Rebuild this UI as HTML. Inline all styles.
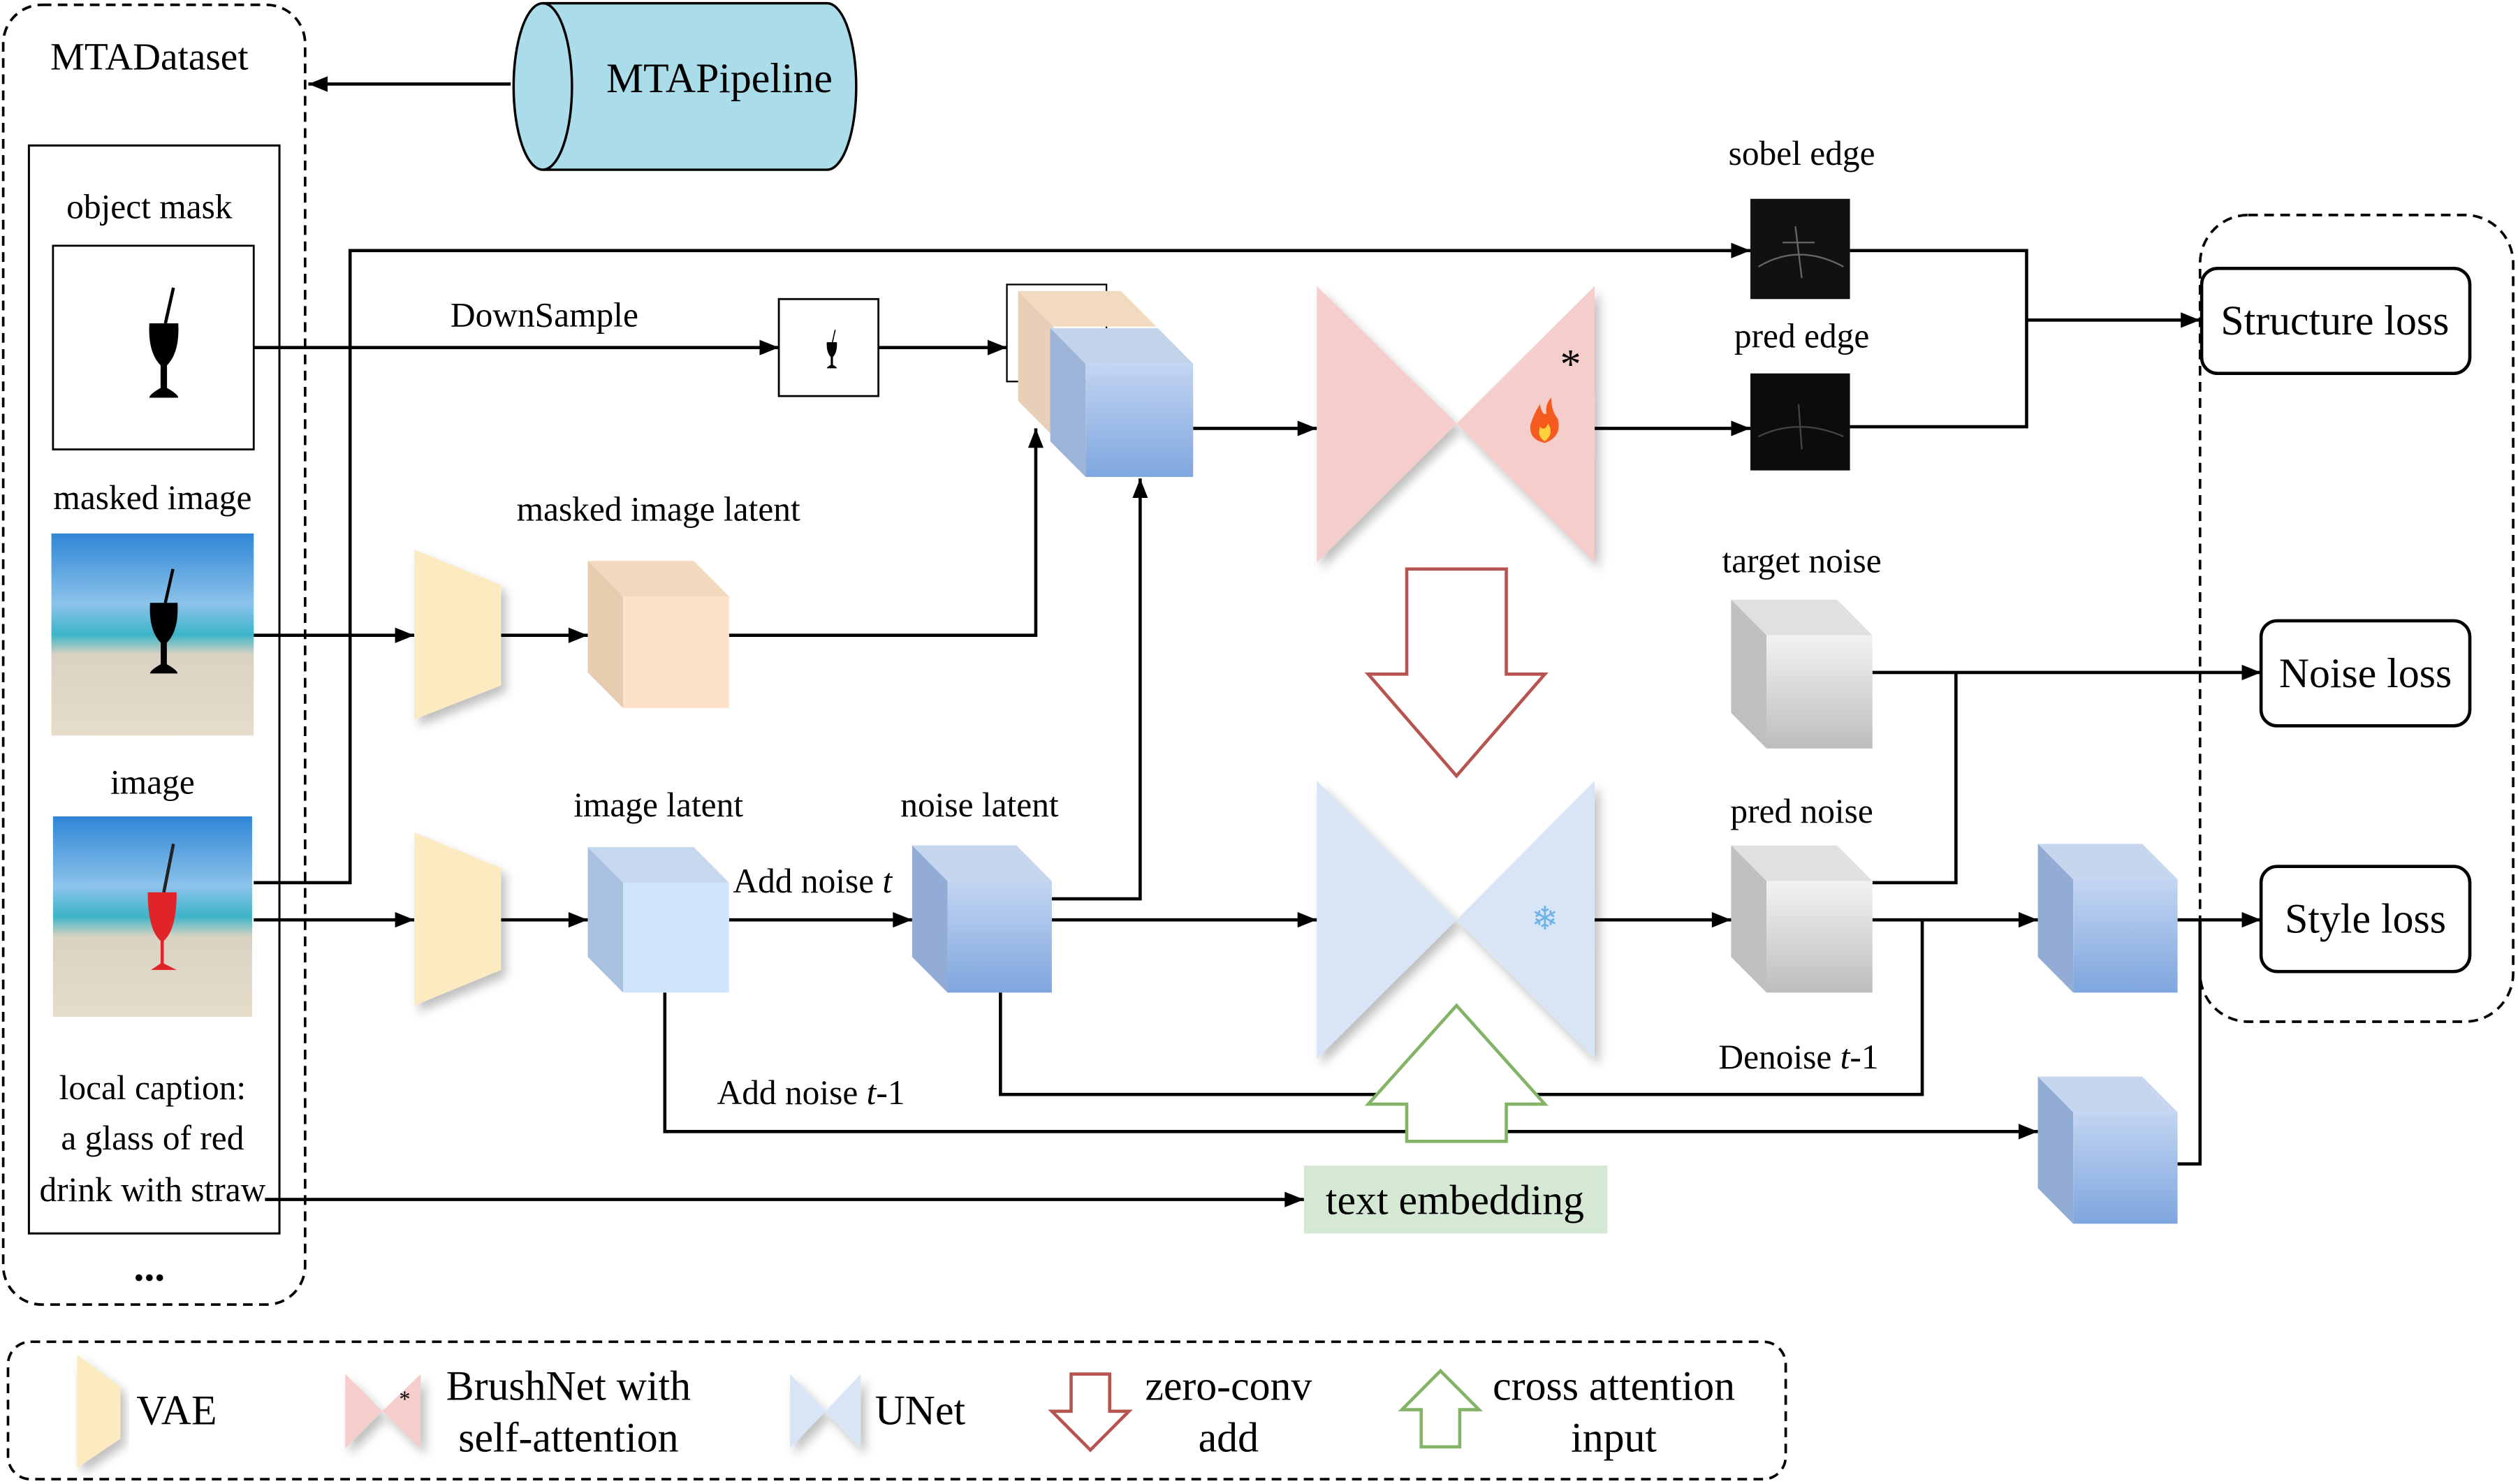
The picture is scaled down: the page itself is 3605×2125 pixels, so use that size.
<!DOCTYPE html>
<html><head><meta charset="utf-8"><style>
html,body{margin:0;padding:0;background:#fff;}
svg{display:block;}
text{font-family:"Liberation Serif",serif;fill:#000;}
</style></head><body>
<svg width="3605" height="2125" viewBox="0 0 1568 918" preserveAspectRatio="none" xmlns="http://www.w3.org/2000/svg">
<defs>
<marker id="a" viewBox="0 0 10 10" refX="10" refY="5" markerWidth="18" markerHeight="12" orient="auto" markerUnits="userSpaceOnUse"><path d="M0,1 L10,5 L0,9 z" fill="#000"/></marker>
<linearGradient id="blue" x1="0" y1="0" x2="0" y2="1"><stop offset="0" stop-color="#c3d5f2"/><stop offset="1" stop-color="#7ea6de"/></linearGradient>
<linearGradient id="gray" x1="0" y1="0" x2="0" y2="1"><stop offset="0" stop-color="#f2f2f2"/><stop offset="1" stop-color="#bdbdbd"/></linearGradient>
<linearGradient id="sky" x1="0" y1="0" x2="0" y2="1"><stop offset="0" stop-color="#2f86d6"/><stop offset="0.35" stop-color="#8cc3ea"/><stop offset="0.5" stop-color="#3cb4c8"/><stop offset="0.6" stop-color="#d9d2c2"/><stop offset="1" stop-color="#e6dccb"/></linearGradient>
<filter id="sh" x="-10%" y="-10%" width="130%" height="130%"><feDropShadow dx="3" dy="4" stdDeviation="3" flood-color="#000" flood-opacity="0.25"/></filter>
<g id="glass"><path d="M-9,-18 L9,-18 Q10,0 2,8 L2,22 Q9,26 9,28 L-9,28 Q-9,26 -2,22 L-2,8 Q-10,0 -9,-18 z" fill="#000"/><line x1="1" y1="-18" x2="6" y2="-40" stroke="#000" stroke-width="2"/></g>
</defs>

<rect x="2" y="3" width="188" height="804" rx="24" fill="none" stroke="#000" stroke-width="1.6" stroke-dasharray="6,4"/>
<text x="93" y="43" font-size="24" text-anchor="middle">MTADataset</text>
<rect x="18" y="90" width="156" height="673" fill="none" stroke="#000" stroke-width="1.3"/>
<text x="93" y="135" font-size="21.5" text-anchor="middle">object mask</text>
<rect x="33" y="152" width="125" height="126" fill="#fff" stroke="#000" stroke-width="1.2"/>
<use href="#glass" transform="translate(102,218)"/>
<text x="95" y="315" font-size="21.5" text-anchor="middle">masked image</text>
<rect x="32" y="330" width="126" height="125" fill="url(#sky)"/>
<use href="#glass" transform="translate(102,390) scale(0.95)"/>
<text x="95" y="491" font-size="21.5" text-anchor="middle">image</text>
<rect x="33" y="505" width="124" height="124" fill="url(#sky)"/>
<path d="M92,552 L110,552 Q110,575 102,582 L102,596 L110,600 L94,600 L100,596 L100,582 Q92,575 92,552z" fill="#e0242a"/>
<line x1="102" y1="552" x2="108" y2="522" stroke="#222" stroke-width="2"/>
<text x="95" y="680" font-size="21.5" text-anchor="middle">local caption:</text>
<text x="95" y="711" font-size="21.5" text-anchor="middle">a glass of red</text>
<text x="95" y="743" font-size="21.5" text-anchor="middle">drink with straw</text>
<text x="93" y="792" font-size="26" text-anchor="middle" font-weight="bold">...</text>

<path d="M338,2 L515,2 A18,51 0 0 1 515,105 L338,105 A18,51 0 0 1 338,2 z" fill="#abdcea" stroke="#000" stroke-width="1.5"/>
<path d="M338,2 A18,51 0 0 1 338,105" fill="none" stroke="#000" stroke-width="1.5"/>
<text x="448" y="57" font-size="26" text-anchor="middle">MTAPipeline</text>
<line x1="318" y1="52" x2="192" y2="52" stroke="#000" stroke-width="2" marker-end="url(#a)"/>

<g stroke="#000" stroke-width="2" fill="none">
<line x1="158" y1="215" x2="485" y2="215" marker-end="url(#a)"/>
<line x1="547" y1="215" x2="627" y2="215" marker-end="url(#a)"/>
<polyline points="158,546 218,546 218,155 1090,155" marker-end="url(#a)"/>
<line x1="158" y1="393" x2="258" y2="393" marker-end="url(#a)"/>
<line x1="312" y1="393" x2="366" y2="393" marker-end="url(#a)"/>
<polyline points="454,393 645,393 645,265" marker-end="url(#a)"/>
<line x1="158" y1="569" x2="258" y2="569" marker-end="url(#a)"/>
<line x1="312" y1="569" x2="366" y2="569" marker-end="url(#a)"/>
<line x1="454" y1="569" x2="568" y2="569" marker-end="url(#a)"/>
<polyline points="655,556 710,556 710,296" marker-end="url(#a)"/>
<line x1="743" y1="265" x2="820" y2="265" marker-end="url(#a)"/>
<line x1="993" y1="265" x2="1090" y2="265" marker-end="url(#a)"/>
<polyline points="1152,155 1262,155 1262,264 1152,264"/>
<line x1="1262" y1="198" x2="1370" y2="198" marker-end="url(#a)"/>
<line x1="655" y1="569" x2="820" y2="569" marker-end="url(#a)"/>
<line x1="993" y1="569" x2="1078" y2="569" marker-end="url(#a)"/>
<line x1="1166" y1="416" x2="1408" y2="416" marker-end="url(#a)"/>
<polyline points="1166,546 1218,546 1218,416"/>
<line x1="1166" y1="569" x2="1269" y2="569" marker-end="url(#a)"/>
<line x1="1356" y1="569" x2="1408" y2="569" marker-end="url(#a)"/>
<polyline points="1197,569 1197,677 623,677 623,614"/>
<polyline points="414,614 414,700 1269,700" marker-end="url(#a)"/>
<polyline points="1356,720 1370,720 1370,569"/>
<line x1="165" y1="742" x2="812" y2="742" marker-end="url(#a)"/>
</g>
<text x="339" y="202" font-size="21.5" text-anchor="middle">DownSample</text>
<rect x="485" y="185" width="62" height="60" fill="#fff" stroke="#000" stroke-width="1.2"/>
<use href="#glass" transform="translate(518,218) scale(0.35)"/>

<polygon points="258,340 312,362 312,424 258,445" fill="#fcebc0" filter="url(#sh)"/>
<polygon points="258,515 312,537 312,600 258,622" fill="#fcebc0" filter="url(#sh)"/>

<polygon points="366,347 432,347 454,369 388,369" fill="#f2d9bd"/>
<polygon points="366,347 388,369 388,438 366,416" fill="#e8ccb0"/>
<rect x="388" y="369" width="66" height="69" fill="#fde2c8"/>
<polygon points="366,524 432,524 454,546 388,546" fill="#c6d8ee"/>
<polygon points="366,524 388,546 388,614 366,592" fill="#a9c0e0"/>
<rect x="388" y="546" width="66" height="68" fill="#cfe5fb"/>
<polygon points="568,523 633,523 655,545 590,545" fill="#c6d6ee"/>
<polygon points="568,523 590,545 590,614 568,592" fill="#93acd6"/>
<rect x="590" y="545" width="65" height="69" fill="url(#blue)"/>
<rect x="627" y="176" width="62" height="60" fill="#fff" stroke="#000" stroke-width="1"/>
<polygon points="634,180 698,180 720,202 656,202" fill="#f2dac0"/>
<polygon points="634,180 656,202 656,270 634,248" fill="#e8cfb8"/>
<polygon points="654,203 721,203 743,225 676,225" fill="#c3d3ea"/>
<polygon points="654,203 676,225 676,295 654,273" fill="#9db4d8"/>
<rect x="676" y="225" width="67" height="70" fill="url(#blue)"/>
<polygon points="1078,371 1144,371 1166,393 1100,393" fill="#e0e0e0"/>
<polygon points="1078,371 1100,393 1100,463 1078,441" fill="#bfbfbf"/>
<rect x="1100" y="393" width="66" height="70" fill="url(#gray)"/>
<polygon points="1078,523 1144,523 1166,545 1100,545" fill="#e0e0e0"/>
<polygon points="1078,523 1100,545 1100,614 1078,592" fill="#bfbfbf"/>
<rect x="1100" y="545" width="66" height="69" fill="url(#gray)"/>
<polygon points="1269,522 1334,522 1356,544 1291,544" fill="#c6d6ee"/>
<polygon points="1269,522 1291,544 1291,614 1269,592" fill="#93acd6"/>
<rect x="1291" y="544" width="65" height="70" fill="url(#blue)"/>
<polygon points="1269,666 1334,666 1356,688 1291,688" fill="#c6d6ee"/>
<polygon points="1269,666 1291,688 1291,757 1269,735" fill="#93acd6"/>
<rect x="1291" y="688" width="65" height="69" fill="url(#blue)"/>

<text x="410" y="322" font-size="21.5" text-anchor="middle">masked image latent</text>
<text x="410" y="505" font-size="21.5" text-anchor="middle">image latent</text>
<text x="610" y="505" font-size="21.5" text-anchor="middle">noise latent</text>
<text x="506" y="552" font-size="21.5" text-anchor="middle">Add noise <tspan font-style="italic">t</tspan></text>
<text x="505" y="683" font-size="21.5" text-anchor="middle">Add noise <tspan font-style="italic">t</tspan>-1</text>
<text x="1120" y="661" font-size="21.5" text-anchor="middle">Denoise <tspan font-style="italic">t</tspan>-1</text>

<g filter="url(#sh)">
<polygon points="820,177 907,262 820,348" fill="#f5cdcb"/>
<polygon points="993,177 907,262 993,348" fill="#f5cdcb"/>
</g>
<text x="978" y="234" font-size="26" text-anchor="middle" font-family="DejaVu Sans">*</text>
<path d="M962,274 Q952,272 953,263 Q955,256 959,250 Q960,257 963,256 Q962,250 966,246 Q966,254 970,259 Q973,270 962,274z" fill="#f55a1e"/>
<path d="M962,273 Q957,270 959,264 Q962,267 964,262 Q968,268 962,273z" fill="#ffd23c"/>

<g filter="url(#sh)">
<polygon points="820,483 907,569 820,655" fill="#d8e5f7"/>
<polygon points="993,483 907,569 993,655" fill="#d8e5f7"/>
</g>
<text x="962" y="575" font-size="20" text-anchor="middle" style="fill:#6fb3e6" font-family="DejaVu Sans">❄</text>

<polygon points="876,352 938,352 938,417 962,417 907,480 852,417 876,417" fill="#fff" stroke="#b85450" stroke-width="2"/>
<polygon points="907,622 962,683 938,683 938,706 876,706 876,683 852,683" fill="#fff" stroke="#82b366" stroke-width="2"/>

<text x="1122" y="102" font-size="21.5" text-anchor="middle">sobel edge</text>
<rect x="1090" y="123" width="62" height="62" fill="#111"/>
<path d="M1095,165 Q1120,150 1148,165 M1118,140 L1122,172 M1110,150 L1130,150" stroke="#666" stroke-width="1" fill="none"/>
<text x="1122" y="215" font-size="21.5" text-anchor="middle">pred edge</text>
<rect x="1090" y="231" width="62" height="60" fill="#0c0c0c"/>
<path d="M1095,270 Q1120,258 1148,270 M1120,250 L1122,278" stroke="#444" stroke-width="1" fill="none"/>
<text x="1122" y="354" font-size="21.5" text-anchor="middle">target noise</text>
<text x="1122" y="509" font-size="21.5" text-anchor="middle">pred noise</text>

<rect x="1370" y="133" width="195" height="499" rx="30" fill="none" stroke="#000" stroke-width="1.6" stroke-dasharray="6,4"/>
<rect x="1371" y="166" width="167" height="65" rx="10" fill="#fff" stroke="#000" stroke-width="2"/>
<text x="1454" y="207" font-size="26" text-anchor="middle">Structure loss</text>
<rect x="1408" y="384" width="130" height="65" rx="10" fill="#fff" stroke="#000" stroke-width="2"/>
<text x="1473" y="425" font-size="26" text-anchor="middle">Noise loss</text>
<rect x="1408" y="536" width="130" height="65" rx="10" fill="#fff" stroke="#000" stroke-width="2"/>
<text x="1473" y="577" font-size="26" text-anchor="middle">Style loss</text>

<rect x="812" y="721" width="189" height="42" fill="#d5e8d4"/>
<text x="906" y="751" font-size="26" text-anchor="middle">text embedding</text>

<rect x="5" y="830" width="1107" height="85" rx="14" fill="none" stroke="#000" stroke-width="1.6" stroke-dasharray="6,4"/>
<polygon points="48,838 75,858 75,890 48,908" fill="#fcebc0" filter="url(#sh)"/>
<text x="110" y="881" font-size="26" text-anchor="middle">VAE</text>
<g filter="url(#sh)"><polygon points="215,850 238,873 215,896" fill="#f5cdcb"/><polygon points="262,850 238,873 262,896" fill="#f5cdcb"/></g>
<text x="252" y="870" font-size="14" text-anchor="middle" font-family="DejaVu Sans">*</text>
<text x="354" y="866" font-size="26" text-anchor="middle">BrushNet with</text>
<text x="354" y="898" font-size="26" text-anchor="middle">self-attention</text>
<g filter="url(#sh)"><polygon points="492,850 514,873 492,896" fill="#d8e5f7"/><polygon points="536,850 514,873 536,896" fill="#d8e5f7"/></g>
<text x="573" y="881" font-size="26" text-anchor="middle">UNet</text>
<polygon points="667,850 691,850 691,873 703,873 679,897 655,873 667,873" fill="#fff" stroke="#b85450" stroke-width="2"/>
<text x="765" y="866" font-size="26" text-anchor="middle">zero-conv</text>
<text x="765" y="898" font-size="26" text-anchor="middle">add</text>
<polygon points="897,848 921,872 909,872 909,895 885,895 885,872 873,872" fill="#fff" stroke="#82b366" stroke-width="2"/>
<text x="1005" y="866" font-size="26" text-anchor="middle">cross attention</text>
<text x="1005" y="898" font-size="26" text-anchor="middle">input</text>
</svg>
</body></html>
